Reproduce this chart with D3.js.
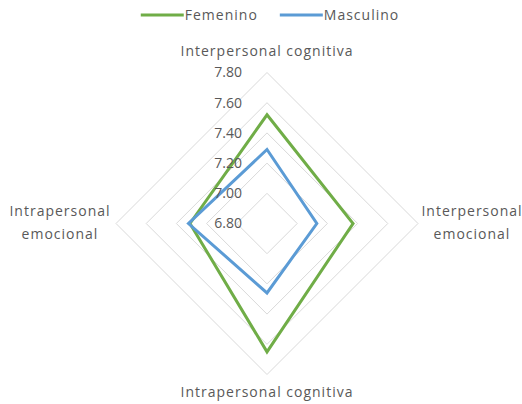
<!DOCTYPE html>
<html>
<head>
<meta charset="utf-8">
<script src="https://cdn.jsdelivr.net/npm/d3@7"></script>
<style>
  body { margin: 0; background: #fff; }
  svg { display: block; font-family: 'Open Sans', 'Segoe UI', sans-serif; }
  text { fill: #595959; }
</style>
</head>
<body>
<div id="chart"></div>
<script>
const categories = [
  ['Interpersonal cognitiva'],
  ['Interpersonal', 'emocional'],
  ['Intrapersonal cognitiva'],
  ['Intrapersonal', 'emocional'],
];
const femenino = [7.52, 7.37, 7.65, 7.31];
const masculino = [7.29, 7.13, 7.26, 7.32];
const ticks = [6.8, 7.0, 7.2, 7.4, 7.6, 7.8];
const seriesNames = ['Femenino', 'Masculino'];
const colors = ['#70AD47', '#5B9BD5'];

const width = 522;
const height = 404;
const cx = 267;
const cy = 223.5;
const radius = 151;

const svg = d3.select('#chart')
  .append('svg')
  .attr('width', width)
  .attr('height', height);

const rScale = d3.scaleLinear().domain([6.8, 7.8]).range([0, radius]);

// angle for category i, clockwise from top
const angle = (i) => (i / categories.length) * 2 * Math.PI;
const point = (v, i) => [
  cx + rScale(v) * Math.sin(angle(i)),
  cy - rScale(v) * Math.cos(angle(i)),
];

// gridlines
svg.append('g')
  .selectAll('path')
  .data(ticks.slice(1))
  .join('path')
  .attr('d', (t) => d3.line()(categories.map((c, i) => point(t, i))) + 'Z')
  .attr('fill', 'none')
  .attr('stroke', '#D9D9D9')
  .attr('stroke-width', 1);

// series
const series = [femenino, masculino];
svg.append('g')
  .selectAll('path')
  .data(series)
  .join('path')
  .attr('d', (s) => d3.line()(s.map((v, i) => point(v, i))) + 'Z')
  .attr('fill', 'none')
  .attr('stroke', (d, i) => colors[i])
  .attr('stroke-width', 3)
  .attr('stroke-linejoin', 'miter');

// tick labels
svg.append('g')
  .selectAll('text')
  .data(ticks)
  .join('text')
  .attr('x', cx - 25)
  .attr('y', (t) => cy - rScale(t))
  .attr('dy', '0.35em')
  .attr('text-anchor', 'end')
  .attr('font-size', 14)
  .text((t) => t.toFixed(2));

// category labels
const labelPos = [
  { x: cx, y: 56 },
  { x: 472, y: 216 },
  { x: cx, y: 397 },
  { x: 60, y: 216 },
];
const catLabels = svg.append('g')
  .selectAll('text')
  .data(categories)
  .join('text')
  .attr('x', (d, i) => labelPos[i].x)
  .attr('y', (d, i) => labelPos[i].y)
  .attr('text-anchor', 'middle')
  .attr('font-size', 14)
  .attr('letter-spacing', 1);

catLabels.selectAll('tspan')
  .data((d, i) => d.map((line) => ({ line, i })))
  .join('tspan')
  .attr('x', (d) => labelPos[d.i].x)
  .attr('dy', (d, j) => (j === 0 ? 0 : 23))
  .text((d) => d.line);

// legend
const legend = svg.append('g');
const items = legend.selectAll('g')
  .data(seriesNames)
  .join('g');
items.append('line')
  .attr('x1', 0)
  .attr('x2', 43)
  .attr('y1', 15)
  .attr('y2', 15)
  .attr('stroke', (d, i) => colors[i])
  .attr('stroke-width', 3);
items.append('text')
  .attr('x', 44)
  .attr('y', 15)
  .attr('dy', '0.35em')
  .attr('font-size', 14)
  .attr('letter-spacing', 1)
  .text((d) => d);

let offset = 0;
items.each(function () {
  const g = d3.select(this);
  g.attr('transform', `translate(${offset},0)`);
  offset += 44 + g.select('text').node().getComputedTextLength() + 22;
});
legend.attr('transform', `translate(${270 - (offset - 22) / 2},0)`);
</script>
</body>
</html>
